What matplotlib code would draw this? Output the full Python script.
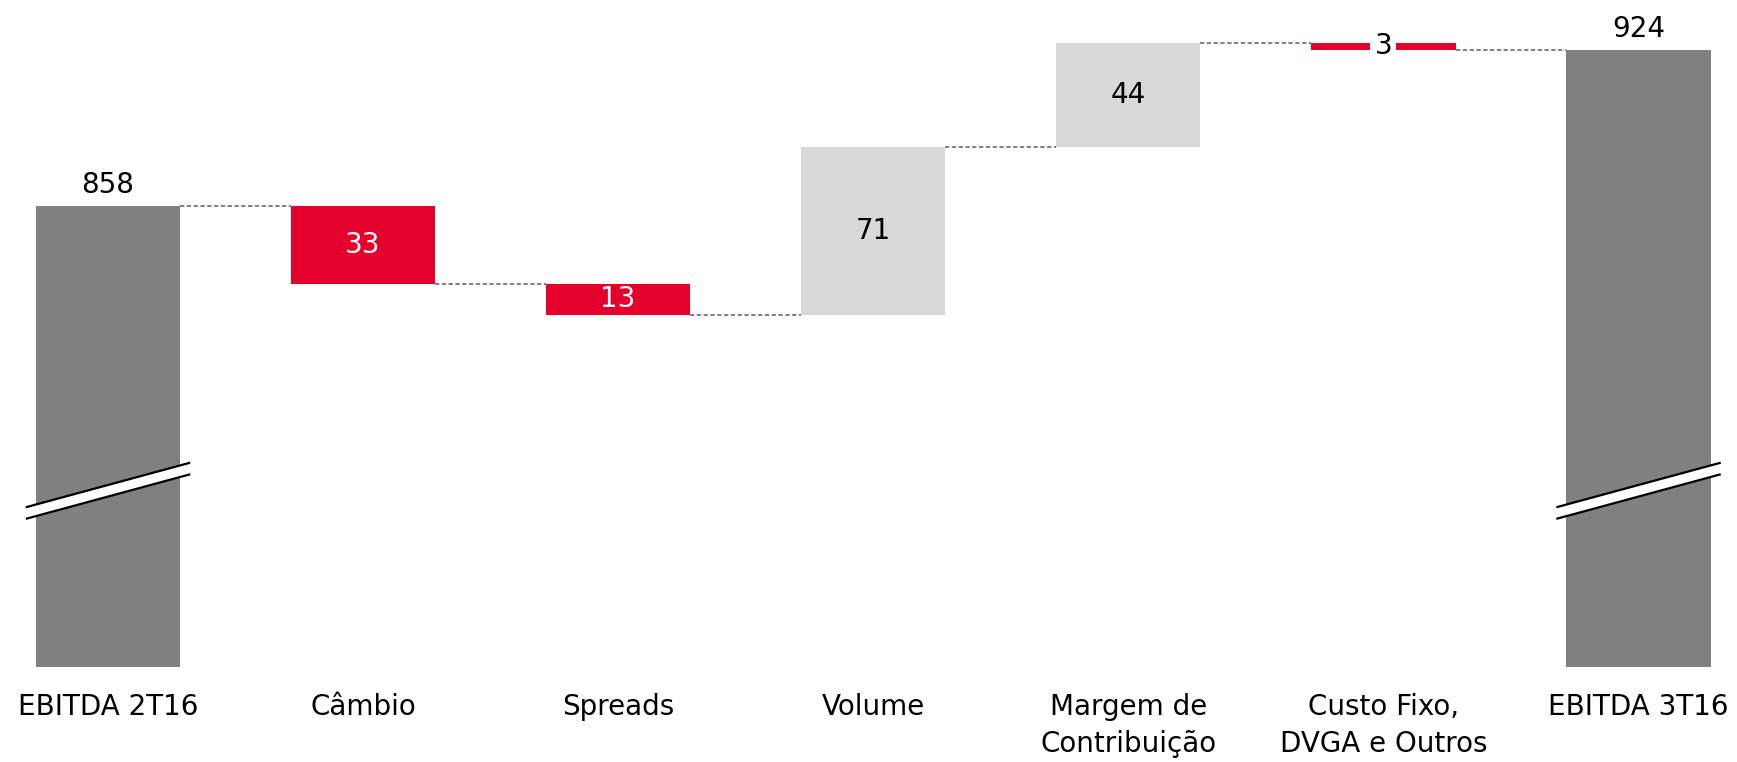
import matplotlib
matplotlib.use("Agg")
import matplotlib.pyplot as plt

plt.rcParams['font.family'] = ['DejaVu Sans']

categories = ["EBITDA 2T16", "Câmbio", "Spreads", "Volume",
              "Margem de\nContribuição", "Custo Fixo,\nDVGA e Outros", "EBITDA 3T16"]
start_value = 858
deltas = [-33, -13, 71, 44, -3]
end_value = 924
value_labels = ["858", "33", "13", "71", "44", "3", "924"]

RED = "#E4002B"
DARK = "#808080"
LIGHT = "#D9D9D9"

y_floor = 663
y_top = 945
break_mid = 737.5
bar_w = 0.565

fig = plt.figure(figsize=(17.37, 7.62), dpi=100)
ax = fig.add_axes([0, 0.1247, 1, 0.8753])

# running levels
levels = [start_value]
for d in deltas:
    levels.append(levels[-1] + d)

bottoms, heights, colors = [], [], []
bottoms.append(y_floor)
heights.append(start_value - y_floor)
colors.append(DARK)
for i, d in enumerate(deltas):
    lo = min(levels[i], levels[i + 1])
    bottoms.append(lo)
    heights.append(abs(d))
    colors.append(RED if d < 0 else LIGHT)
bottoms.append(y_floor)
heights.append(end_value - y_floor)
colors.append(DARK)

x = list(range(len(categories)))
ax.bar(x, heights, bottom=bottoms, width=bar_w, color=colors, zorder=2)

# dashed connectors between bars
for i in range(len(x) - 1):
    lvl = levels[i] if i < len(levels) else end_value
    ax.plot([x[i] + bar_w / 2, x[i + 1] - bar_w / 2], [lvl, lvl],
            ls=(0, (2.2, 1.3)), color=DARK, lw=1.4, zorder=1)

# value labels
for i in x:
    if i == 0 or i == len(x) - 1:
        ax.annotate(value_labels[i], (i, bottoms[i] + heights[i]),
                    xytext=(0, 5), textcoords="offset points",
                    ha="center", va="bottom", fontsize=20)
    else:
        mid = bottoms[i] + heights[i] / 2
        col = "white" if colors[i] == RED and heights[i] > 8 else "black"
        kw = {}
        if heights[i] < 8:
            kw["bbox"] = dict(boxstyle="square,pad=0.15", fc="white", ec="none")
        ax.text(i, mid, value_labels[i], ha="center", va="center",
                fontsize=20, color=col, zorder=3, **kw)

# axis break marks on the total bars
half = 0.318
rise = 9.3
gap = 4.9
for i in (0, len(x) - 1):
    xs = [i - half, i + half]
    upper = [break_mid - rise + gap / 2, break_mid + rise + gap / 2]
    lower = [u - gap for u in upper]
    ax.fill_between(xs, lower, upper, color="white", zorder=3, lw=0)
    ax.plot(xs, upper, color="black", lw=1.6, zorder=4)
    ax.plot(xs, lower, color="black", lw=1.6, zorder=4)

ax.set_xlim(-0.4234, 6.386)
ax.set_ylim(y_floor, y_top)
ax.set_xticks(x)
ax.set_xticklabels(categories, fontsize=20, linespacing=1.4)
ax.tick_params(axis="x", length=0, pad=19)
ax.set_yticks([])
for s in ax.spines.values():
    s.set_visible(False)

fig.savefig("out.png", dpi=100)
